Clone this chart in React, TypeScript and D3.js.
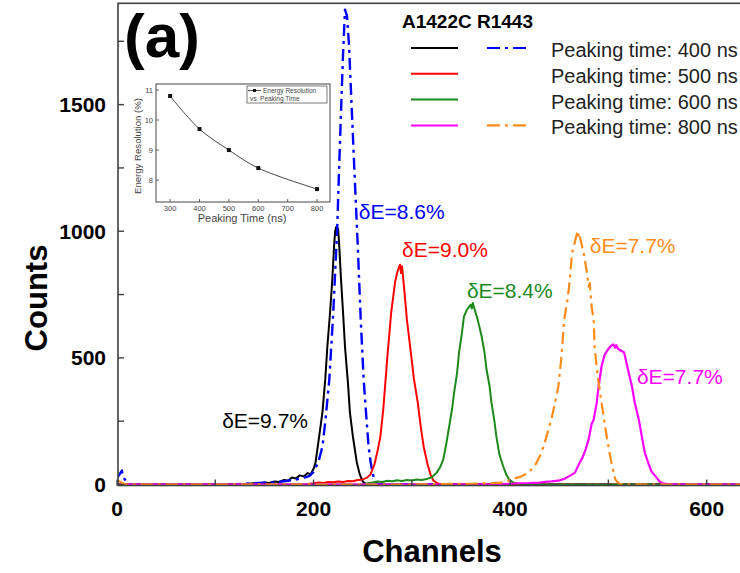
import * as d3 from 'd3';
import { useEffect, useRef } from 'react';

// main axes
const xTicks = [0, 200, 400, 600];
const xMinor = [100, 300, 500];
const yTicks = [0, 500, 1000, 1500];
const yMinor = [250, 750, 1250, 1750];

// spectra: [channel, counts]
const a400 = [[0, 0], [100, 0], [130, 2], [140, 5], [145, 4], [150, 8], [155, 6], [160, 12], [165, 10], [170, 18], [174, 15], [178, 28], [182, 24], [186, 36], [190, 32], [194, 45], [197, 40], [200, 62], [202, 87], [205, 170], [209, 284], [212, 420], [214, 543], [217, 690], [219, 805], [221, 950], [222, 1000], [223, 1017], [224, 985], [225, 1010], [226, 950], [228, 805], [230, 680], [232, 543], [235, 400], [237, 284], [240, 190], [244, 87], [247, 40], [250, 12], [253, 3], [258, 0], [640, 0]];
const r400 = [[0, 25], [5, 55], [6, 30], [10, 10], [14, 0], [120, 0], [130, 3], [140, 5], [150, 7], [160, 9], [170, 13], [180, 18], [190, 26], [196, 34], [200, 50], [205, 90], [209, 150], [212, 250], [216, 414], [220, 675], [224, 1005], [226, 1250], [228, 1480], [230, 1700], [232, 1875], [234, 1850], [236, 1740], [238, 1560], [240, 1380], [242, 1200], [245, 940], [248, 650], [251, 414], [254, 250], [256, 150], [258, 90], [260, 47], [262, 15], [265, 3], [270, 0], [640, 0]];
const a500 = [[0, 0], [190, 0], [200, 5], [205, 8], [210, 6], [215, 10], [220, 9], [225, 12], [230, 10], [235, 14], [240, 13], [245, 18], [250, 20], [254, 26], [258, 40], [262, 80], [265, 130], [268, 190], [271, 300], [273, 400], [275, 500], [277, 590], [279, 680], [281, 740], [283, 800], [285, 835], [287, 860], [288, 868], [289, 835], [290, 862], [292, 781], [295, 650], [299, 521], [302, 420], [306, 324], [309, 230], [312, 150], [316, 80], [319, 40], [322, 15], [326, 5], [330, 0], [640, 0]];
const a600 = [[0, 0], [250, 0], [255, 5], [260, 8], [265, 12], [270, 10], [275, 15], [280, 13], [285, 17], [290, 14], [295, 18], [300, 16], [305, 20], [310, 18], [315, 22], [320, 28], [325, 45], [329, 70], [332, 99], [335, 160], [338, 229], [341, 300], [343, 363], [346, 440], [348, 521], [351, 600], [353, 663], [356, 690], [358, 700], [360, 710], [361, 695], [362, 717], [364, 690], [367, 651], [371, 585], [374, 520], [376, 454], [379, 390], [381, 324], [384, 250], [386, 190], [389, 120], [393, 71], [396, 40], [399, 20], [403, 8], [408, 3], [415, 0], [640, 0]];
const a800 = [[0, 0], [380, 0], [400, 3], [410, 5], [420, 6], [430, 8], [436, 10], [442, 12], [449, 15], [455, 22], [461, 35], [466, 47], [470, 80], [474, 110], [477, 140], [480, 180], [483, 240], [485, 256], [488, 320], [490, 386], [493, 466], [496, 510], [499, 530], [502, 545], [505, 553], [507, 540], [508, 550], [510, 535], [513, 528], [516, 521], [519, 470], [522, 420], [524, 386], [527, 320], [531, 256], [534, 190], [537, 126], [541, 80], [544, 50], [548, 32], [552, 12], [555, 5], [560, 2], [570, 0], [640, 0]];
const r800 = [[0, 18], [8, 0], [300, 0], [330, 2], [360, 3], [380, 5], [395, 8], [401, 20], [410, 30], [419, 47], [426, 80], [432, 126], [437, 190], [442, 256], [446, 330], [449, 386], [452, 495], [455, 651], [458, 720], [460, 781], [463, 912], [466, 960], [468, 991], [469, 975], [470, 995], [472, 960], [475, 912], [478, 840], [480, 781], [481, 795], [483, 700], [485, 651], [486, 541], [489, 430], [493, 324], [497, 220], [501, 126], [504, 70], [507, 20], [511, 3], [515, 0], [640, 0]];

const legendRows = ['Peaking time: 400 ns', 'Peaking time: 500 ns', 'Peaking time: 600 ns', 'Peaking time: 800 ns'];
const legendColorsA = ['#000000', '#ff0000', '#1c8a1c', '#ff00ff'];
const legendColorsR = ['#0000ff', null, null, '#ff8c1a'];

// resolution labels: text, channel, counts
const labelText = ['δE=9.7%', 'δE=8.6%', 'δE=9.0%', 'δE=8.4%', 'δE=7.7%', 'δE=7.7%'];
const labelCh = [107, 246, 290, 356, 481, 529];
const labelCount = [223, 1048, 898, 736, 914, 397];
const labelColors = ['#000000', '#0000ff', '#ff0000', '#1c8a1c', '#ff8c1a', '#ff00ff'];

// inset
const peakTimes = [300, 400, 500, 600, 800];
const resolution = [10.8, 9.7, 9.0, 8.4, 7.7];
const insetXTicks = [300, 400, 500, 600, 700, 800];
const insetYTicks = [8, 9, 10, 11];

const FONT = '"Liberation Sans", Arial, sans-serif';
const DASHDOT = '12,5,3,5';

export default function App() {
  const ref = useRef<SVGSVGElement>(null);

  useEffect(() => {
    const W = 740, H = 573;
    const svg = d3.select(ref.current);
    svg.selectAll('*').remove();

    const x = d3.scaleLinear().domain([0, 640]).range([117, 746]);
    const y = d3.scaleLinear().domain([0, 1900]).range([484.5, 3.3]);
    const axisColor = '#404040';

    const line = d3.line<number[]>()
      .x(d => x(d[0]))
      .y(d => y(d[1]));

    const series = [
      { data: a400, color: legendColorsA[0], dash: null, w: 2 },
      { data: r400, color: legendColorsR[0], dash: DASHDOT, w: 2.4 },
      { data: a500, color: legendColorsA[1], dash: null, w: 2 },
      { data: a600, color: legendColorsA[2], dash: null, w: 2 },
      { data: a800, color: legendColorsA[3], dash: null, w: 2.2 },
      { data: r800, color: legendColorsR[3], dash: DASHDOT, w: 2.2 },
    ];

    svg.append('defs').append('clipPath').attr('id', 'plotclip')
      .append('rect').attr('x', 118).attr('y', 0).attr('width', W - 118).attr('height', 487);

    const plot = svg.append('g').attr('clip-path', 'url(#plotclip)');
    series.forEach(s => {
      plot.append('path')
        .attr('d', line(s.data as number[][]))
        .attr('fill', 'none')
        .attr('stroke', s.color)
        .attr('stroke-width', s.w)
        .attr('stroke-linejoin', 'round')
        .attr('stroke-dasharray', s.dash);
    });

    // frame
    svg.append('rect')
      .attr('x', x(0) + 1).attr('y', y(1900))
      .attr('width', 700).attr('height', y(0) - y(1900) + 1)
      .attr('fill', 'none').attr('stroke', axisColor).attr('stroke-width', 1.6);

    const bottomY = y(0) + 1;
    [...xTicks, ...xMinor].forEach(t => {
      svg.append('line')
        .attr('x1', x(t)).attr('x2', x(t))
        .attr('y1', bottomY).attr('y2', bottomY - 6)
        .attr('stroke', axisColor).attr('stroke-width', 1.4);
    });
    [...yTicks, ...yMinor].forEach(t => {
      svg.append('line')
        .attr('x1', x(0) + 1).attr('x2', x(0) + 7)
        .attr('y1', y(t)).attr('y2', y(t))
        .attr('stroke', axisColor).attr('stroke-width', 1.4);
    });

    xTicks.forEach(t => {
      svg.append('text')
        .attr('x', x(t)).attr('y', 516)
        .attr('text-anchor', 'middle')
        .style('font', `bold 21px ${FONT}`)
        .text(t);
    });
    yTicks.forEach(t => {
      svg.append('text')
        .attr('x', 106).attr('y', y(t))
        .attr('text-anchor', 'end')
        .attr('dominant-baseline', 'central')
        .style('font', `bold 21px ${FONT}`)
        .text(t);
    });

    svg.append('text')
      .attr('transform', `translate(47,298) rotate(-90)`)
      .attr('text-anchor', 'middle')
      .style('font', `bold 31px ${FONT}`)
      .text('Counts');
    svg.append('text')
      .attr('x', 432).attr('y', 562)
      .attr('text-anchor', 'middle')
      .style('font', `bold 31px ${FONT}`)
      .text('Channels');

    svg.append('text')
      .attr('x', 124).attr('y', 57)
      .style('font', `bold 62px ${FONT}`)
      .text('(a)');

    // legend
    svg.append('text')
      .attr('x', 402).attr('y', 28)
      .style('font', `bold 19px ${FONT}`)
      .text('A1422C R1443');
    legendRows.forEach((label, i) => {
      const ly = 48 + i * 25.8;
      svg.append('line')
        .attr('x1', 411).attr('x2', 458).attr('y1', ly).attr('y2', ly)
        .attr('stroke', legendColorsA[i]).attr('stroke-width', 2);
      if (legendColorsR[i]) {
        svg.append('line')
          .attr('x1', 487).attr('x2', 529).attr('y1', ly).attr('y2', ly)
          .attr('stroke', legendColorsR[i]).attr('stroke-width', 2.2)
          .attr('stroke-dasharray', '13,5,3,5');
      }
      svg.append('text')
        .attr('x', 551).attr('y', ly + 9)
        .style('font', `20px ${FONT}`)
        .attr('fill', '#222')
        .text(label);
    });

    labelText.forEach((t, i) => {
      svg.append('text')
        .attr('x', x(labelCh[i])).attr('y', y(labelCount[i]))
        .attr('fill', labelColors[i])
        .style('font', `21px ${FONT}`)
        .text(t);
    });

    // inset
    const ix = d3.scaleLinear().domain([252, 844]).range([156, 330]);
    const iy = d3.scaleLinear().domain([7.27, 11.2]).range([202, 84]);
    const inset = svg.append('g');
    const gray = '#444';
    inset.append('rect')
      .attr('x', 156).attr('y', 84).attr('width', 174).attr('height', 118)
      .attr('fill', '#fff').attr('stroke', gray).attr('stroke-width', 1);
    insetXTicks.forEach(t => {
      inset.append('line').attr('x1', ix(t)).attr('x2', ix(t))
        .attr('y1', 202).attr('y2', 199).attr('stroke', gray).attr('stroke-width', 0.8);
      inset.append('text').attr('x', ix(t)).attr('y', 211)
        .attr('text-anchor', 'middle').attr('fill', gray)
        .style('font', `7.5px ${FONT}`).text(t);
    });
    insetYTicks.forEach(t => {
      inset.append('line').attr('x1', 156).attr('x2', 159)
        .attr('y1', iy(t)).attr('y2', iy(t)).attr('stroke', gray).attr('stroke-width', 0.8);
      inset.append('text').attr('x', 153).attr('y', iy(t))
        .attr('text-anchor', 'end').attr('dominant-baseline', 'central').attr('fill', gray)
        .style('font', `7.5px ${FONT}`).text(t);
    });
    inset.append('text')
      .attr('transform', 'translate(141,146) rotate(-90)')
      .attr('text-anchor', 'middle').attr('fill', gray)
      .style('font', `9.6px ${FONT}`)
      .text('Energy Resolution (%)');
    inset.append('text')
      .attr('x', 242).attr('y', 222)
      .attr('text-anchor', 'middle').attr('fill', gray)
      .style('font', `11px ${FONT}`)
      .text('Peaking Time (ns)');

    const pts = peakTimes.map((p, i) => [p, resolution[i]]);
    inset.append('path')
      .attr('d', d3.line<number[]>().x(d => ix(d[0])).y(d => iy(d[1])).curve(d3.curveCatmullRom)(pts))
      .attr('fill', 'none').attr('stroke', '#333').attr('stroke-width', 0.9);
    inset.selectAll('rect.pt').data(pts).enter().append('rect')
      .attr('class', 'pt')
      .attr('x', d => ix(d[0]) - 2).attr('y', d => iy(d[1]) - 2)
      .attr('width', 4).attr('height', 4).attr('fill', '#111');

    inset.append('rect')
      .attr('x', 247).attr('y', 86).attr('width', 80).attr('height', 17)
      .attr('fill', 'none').attr('stroke', gray).attr('stroke-width', 0.7);
    inset.append('line').attr('x1', 248).attr('x2', 261).attr('y1', 90.5).attr('y2', 90.5)
      .attr('stroke', '#333').attr('stroke-width', 0.9);
    inset.append('rect').attr('x', 253).attr('y', 89).attr('width', 3).attr('height', 3).attr('fill', '#111');
    inset.append('text').attr('x', 263).attr('y', 93).attr('fill', gray)
      .style('font', `6.5px ${FONT}`).text('Energy Resolution');
    inset.append('text').attr('x', 250).attr('y', 101).attr('fill', gray)
      .style('font', `6.5px ${FONT}`).text('vs. Peaking Time');
  }, []);

  return (
    <svg ref={ref} width={740} height={573}
      style={{ position: 'absolute', left: 0, top: 0, background: '#fff' }} />
  );
}
